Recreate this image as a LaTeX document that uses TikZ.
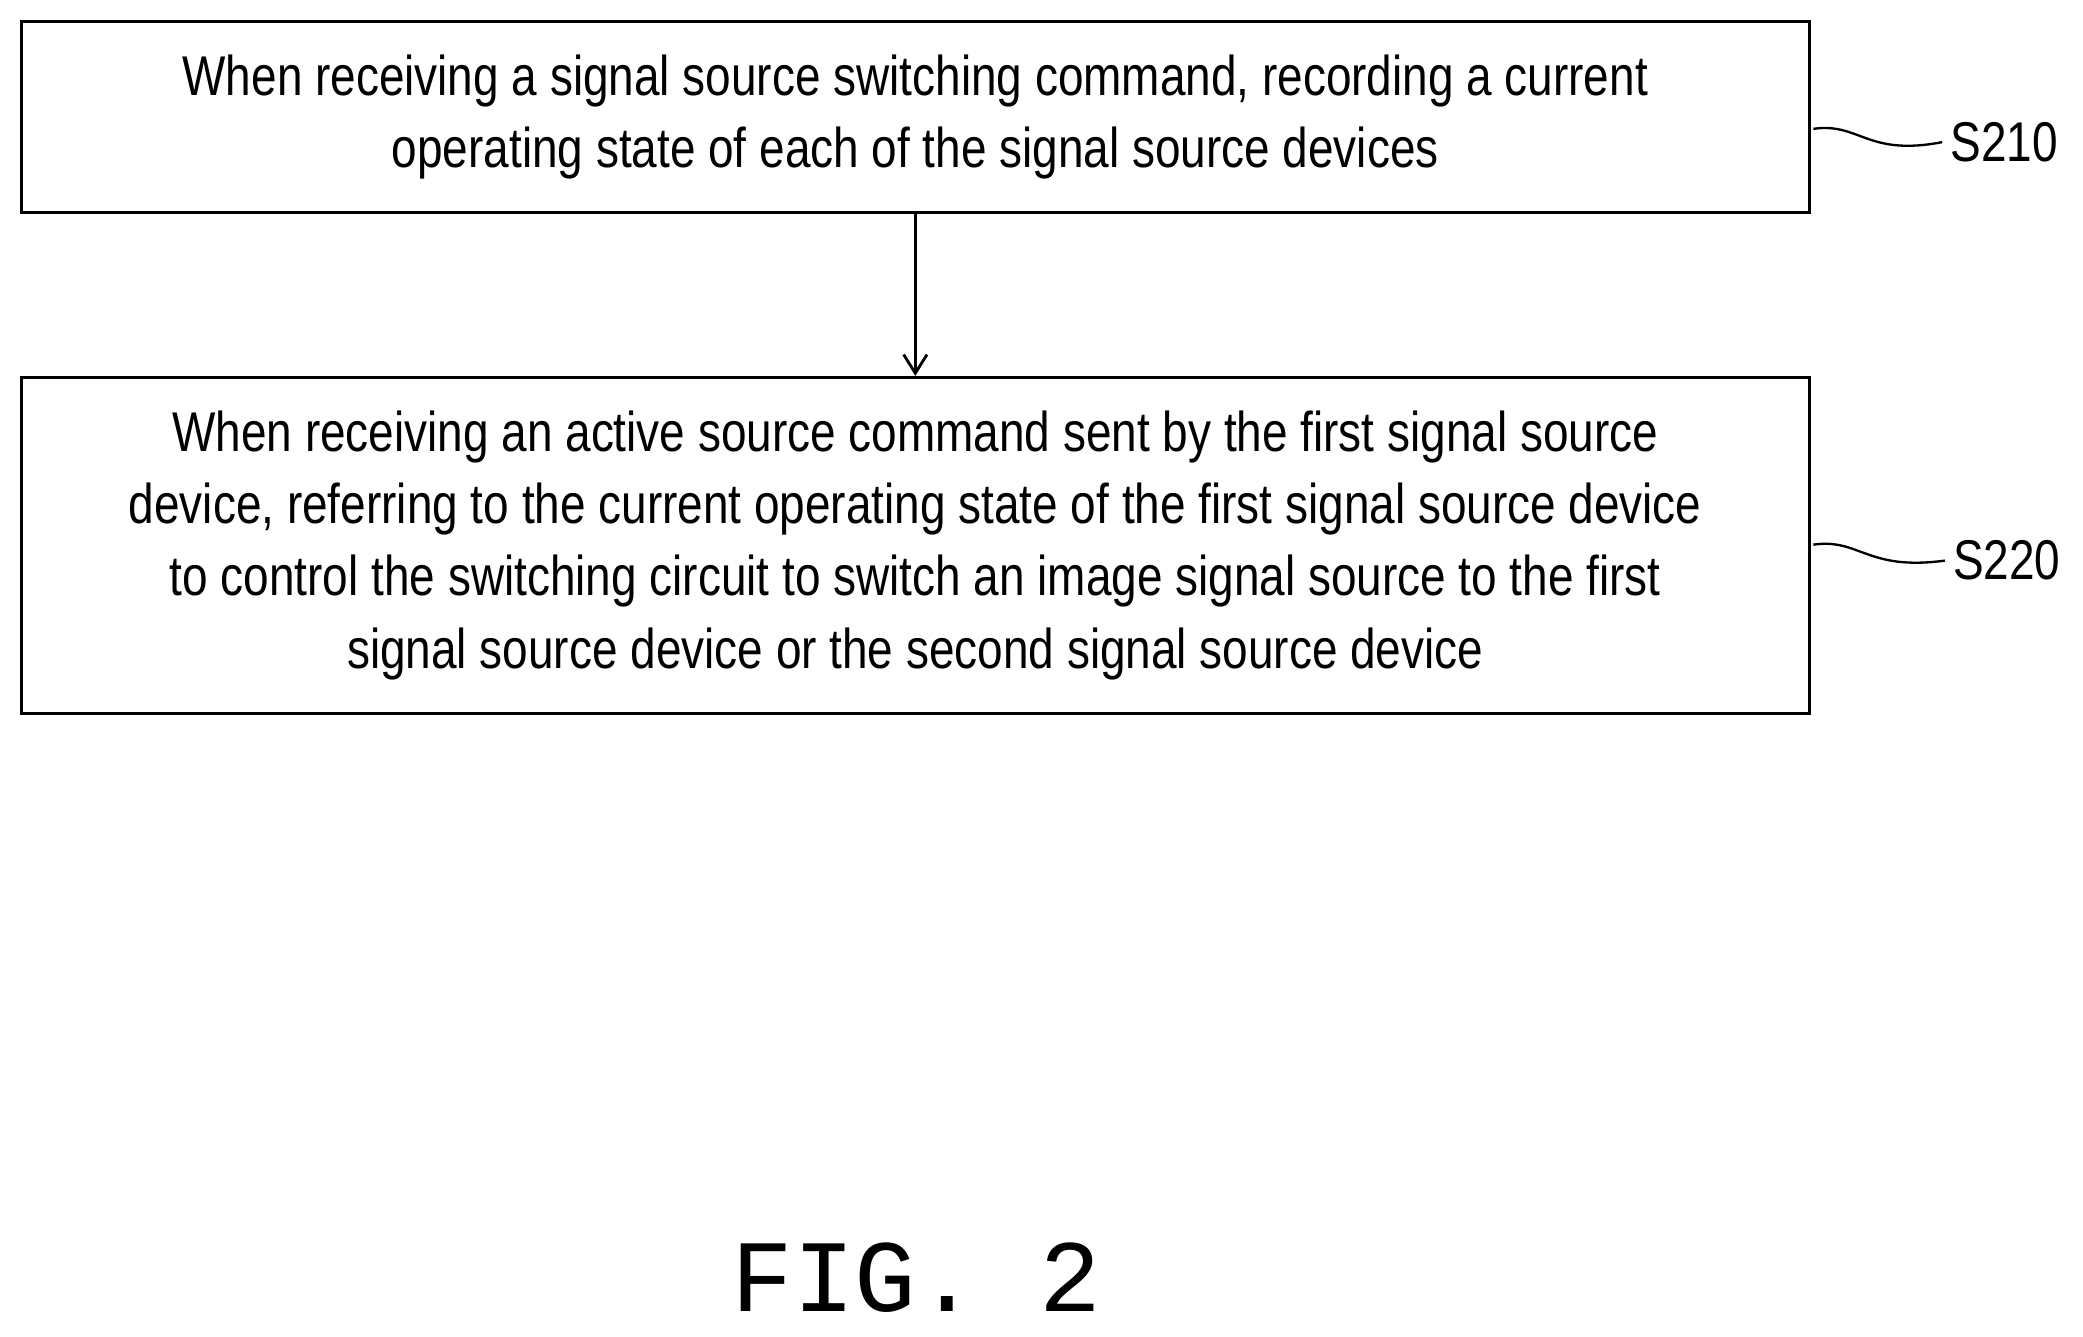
\documentclass[tikz,border=0pt]{standalone}
\usetikzlibrary{arrows.meta}
\usepackage{fontspec}
\setmainfont{Liberation Sans}[FakeStretch=0.82]
\newfontfamily\figfont{Liberation Mono}
\begin{document}
\begin{tikzpicture}[x=0.02cm,y=-0.02cm,
 box/.style={draw,line width=1.2pt,minimum width=1346*0.02cm,inner sep=0pt,align=center,font=\fontsize{24}{31}\selectfont},
 lbl/.style={font=\fontsize{24}{28}\selectfont}]
\useasboundingbox (0,0) rectangle (1568,1006);
\node[box,minimum height=144*0.02cm] (b1) at (689,88) {When receiving a signal source switching command, recording a current\\operating state of each of the signal source devices};
\node[box,minimum height=253*0.02cm] (b2) at (689,410.5) {When receiving an active source command sent by the first signal source\\device, referring to the current operating state of the first signal source device\\to control the switching circuit to switch an image signal source to the first\\signal source device or the second signal source device};
\draw[line width=1.2pt,-{Straight Barb[length=8pt,width=10pt]}] (b1.south) -- (b2.north);
\node[lbl,anchor=west] (s1) at (1462,107) {S210};
\node[lbl,anchor=west] (s2) at (1464,422) {S220};
\coordinate (c1) at (1365,97);
\coordinate (c2) at (1365,410);
\draw[line width=1pt] (c1) .. controls (1400,92) and (1405,118) .. (s1.west);
\draw[line width=1pt] (c2) .. controls (1400,405) and (1405,430) .. (s2.west);
\node[font=\figfont\fontsize{44}{50}\selectfont] (fig) at (690,962) {FIG. 2};
\end{tikzpicture}
\end{document}
